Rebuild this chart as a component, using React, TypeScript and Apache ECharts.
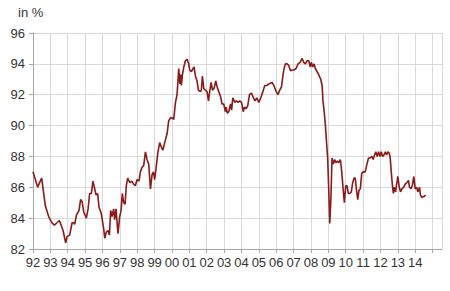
import React, { useEffect, useRef } from "react";
import * as echarts from "echarts";

const years: number[] = [
  1992.0, 1992.27, 1992.38, 1992.5, 1992.71, 1992.9, 1993.09, 1993.23, 1993.38, 1993.52, 1993.73, 1993.88, 1993.96,
  1994.11, 1994.25, 1994.34, 1994.4, 1994.5, 1994.65, 1994.74, 1994.82, 1994.92, 1995.07, 1995.17, 1995.26, 1995.36,
  1995.45, 1995.53, 1995.63, 1995.72, 1995.8, 1995.93, 1996.07, 1996.13, 1996.22, 1996.32, 1996.4, 1996.47, 1996.55,
  1996.64, 1996.7, 1996.78, 1996.84, 1996.89, 1996.99, 1997.07, 1997.14, 1997.22, 1997.3, 1997.37, 1997.45, 1997.57,
  1997.68, 1997.8, 1997.89, 1997.99, 1998.1, 1998.18, 1998.28, 1998.37, 1998.47, 1998.56, 1998.66, 1998.76, 1998.85,
  1998.93, 1999.0, 1999.08, 1999.18, 1999.29, 1999.39, 1999.47, 1999.56, 1999.72, 1999.81, 1999.91, 2000.0, 2000.1,
  2000.2, 2000.29, 2000.39, 2000.45, 2000.5, 2000.54, 2000.6, 2000.68, 2000.77, 2000.87, 2000.96, 2001.02, 2001.12,
  2001.21, 2001.27, 2001.35, 2001.44, 2001.52, 2001.64, 2001.69, 2001.75, 2001.83, 2001.92, 2002.02, 2002.1, 2002.17,
  2002.25, 2002.33, 2002.42, 2002.52, 2002.6, 2002.69, 2002.79, 2002.88, 2002.98, 2003.07, 2003.12, 2003.18, 2003.27,
  2003.37, 2003.43, 2003.5, 2003.62, 2003.71, 2003.81, 2003.9, 2004.0, 2004.1, 2004.17, 2004.27, 2004.36, 2004.46,
  2004.57, 2004.69, 2004.77, 2004.88, 2005.0, 2005.11, 2005.23, 2005.34, 2005.47, 2005.57, 2005.76, 2005.86, 2006.0,
  2006.1, 2006.2, 2006.3, 2006.38, 2006.45, 2006.53, 2006.62, 2006.72, 2006.82, 2006.91, 2007.02, 2007.14, 2007.26,
  2007.37, 2007.49, 2007.58, 2007.68, 2007.77, 2007.87, 2007.96, 2008.02, 2008.1, 2008.18, 2008.25, 2008.35, 2008.44,
  2008.56, 2008.64, 2008.69, 2008.75, 2008.83, 2008.92, 2008.96, 2009.02, 2009.08, 2009.15, 2009.21, 2009.29, 2009.36,
  2009.44, 2009.52, 2009.6, 2009.69, 2009.77, 2009.84, 2009.92, 2010.0, 2010.07, 2010.15, 2010.23, 2010.32, 2010.4,
  2010.48, 2010.55, 2010.61, 2010.69, 2010.76, 2010.84, 2010.92, 2011.0, 2011.12, 2011.22, 2011.31, 2011.41, 2011.5,
  2011.58, 2011.66, 2011.73, 2011.81, 2011.89, 2011.97, 2012.04, 2012.12, 2012.2, 2012.28, 2012.35, 2012.43, 2012.51,
  2012.56, 2012.62, 2012.68, 2012.74, 2012.79, 2012.87, 2012.93, 2013.0, 2013.08, 2013.15, 2013.23, 2013.33, 2013.42,
  2013.52, 2013.61, 2013.67, 2013.75, 2013.83, 2013.92, 2014.0, 2014.08, 2014.15, 2014.25, 2014.3, 2014.38, 2014.5,
  2014.6,
];

const values: number[] = [
  87.0, 86.0, 86.3, 86.6, 84.8, 84.1, 83.7, 83.55, 83.7, 83.85, 83.2, 82.4, 82.8,
  82.9, 83.7, 83.7, 83.6, 84.2, 84.5, 85.2, 85.1, 84.4, 84.0, 84.6, 85.6, 85.6,
  86.4, 86.0, 85.5, 85.6, 84.7, 84.3, 83.3, 82.7, 83.1, 83.2, 82.9, 84.5, 84.1,
  84.6, 83.9, 84.6, 83.7, 83.0, 84.1, 84.5, 85.6, 85.0, 84.9, 86.1, 86.6, 86.3,
  86.4, 86.2, 86.1, 86.5, 86.4, 87.0, 87.3, 87.4, 88.3, 87.8, 87.5, 85.9, 86.8,
  87.0, 86.5, 87.2, 88.2, 88.9, 88.6, 88.4, 88.8, 89.5, 90.3, 90.5, 90.5, 90.4,
  91.5, 92.0, 93.7, 92.7, 93.3, 92.6, 93.3, 93.8, 94.2, 94.3, 94.0, 93.6, 93.5,
  93.7, 93.8, 93.2, 92.9, 92.3, 92.2, 92.3, 93.2, 92.4, 92.3, 92.2, 91.6, 92.2,
  92.8, 92.3, 92.4, 92.9, 92.5, 92.2, 91.9, 91.4, 91.4, 90.9, 91.2, 90.8, 90.9,
  91.4, 91.0, 91.8, 91.5, 91.6, 91.5, 91.6, 91.5, 90.9, 91.2, 91.1, 91.3, 92.0,
  92.1, 91.8, 91.6, 91.8, 91.5, 91.8, 92.2, 92.6, 92.6, 92.7, 92.8, 92.6, 92.2,
  92.0, 92.3, 92.5, 93.2, 93.7, 94.0, 94.0, 93.9, 93.55, 93.6, 93.6, 93.7, 94.0,
  94.1, 94.35, 94.1, 94.0, 94.2, 94.2, 93.8, 94.1, 93.8, 94.0, 93.7, 93.5, 93.3,
  93.0, 92.6, 91.6, 91.0, 90.0, 88.5, 87.9, 85.9, 83.65, 85.4, 87.9, 87.5, 87.8,
  87.6, 87.7, 87.6, 87.8, 87.0, 86.0, 85.0, 86.1, 86.1, 85.6, 85.6, 85.7, 86.3,
  86.6, 86.6, 85.9, 85.2, 85.8, 85.9, 86.9, 87.0, 87.0, 87.5, 87.9, 87.9, 88.0,
  87.8, 88.1, 88.3, 88.0, 88.3, 88.0, 88.3, 88.0, 88.1, 88.3, 88.1, 88.3, 88.2,
  87.9, 87.0, 86.2, 85.6, 86.0, 85.7, 86.2, 86.7, 86.0, 85.7, 85.9, 86.0, 86.2,
  86.3, 86.45, 86.0, 85.9, 86.1, 86.7, 85.9, 86.0, 85.7, 86.0, 85.5, 85.35, 85.4,
  85.5,
];

const yTicks = { min: 82, max: 96, step: 2 };
const xRange = { min: 1992, max: 2015.54, lastLabel: 2014 };
const unitLabel = "in %";

export default function App() {
  const ref = useRef<HTMLDivElement>(null);
  useEffect(() => {
    if (!ref.current) return;
    const chart = echarts.init(ref.current, undefined, { renderer: "svg" });
    const font = "'Liberation Sans', Arial, sans-serif";
    chart.setOption({
      animation: false,
      backgroundColor: "#ffffff",
      grid: { left: 33, right: 8, top: 33, bottom: 42, containLabel: false },
      graphic: [
        {
          type: "text",
          left: 18,
          top: 6,
          style: { text: unitLabel, font: `13px ${font}`, fill: "#333333" },
        },
      ],
      xAxis: {
        type: "value",
        min: xRange.min,
        max: xRange.max,
        interval: 1,
        axisLine: { show: true, lineStyle: { color: "#a6a6a6", width: 1 } },
        axisTick: { show: true, length: 4, lineStyle: { color: "#a6a6a6" } },
        splitLine: { show: true, lineStyle: { color: "#d9d9d9", width: 1 } },
        axisLabel: {
          color: "#333333",
          fontFamily: font,
          fontSize: 13,
          margin: 7,
          showMaxLabel: false,
          formatter: (v: number) => {
            const y = Math.round(v);
            if (y > xRange.lastLabel) return "";
            return String(y % 100).padStart(2, "0");
          },
        },
      },
      yAxis: {
        type: "value",
        min: yTicks.min,
        max: yTicks.max,
        interval: yTicks.step,
        axisLine: { show: true, lineStyle: { color: "#a6a6a6", width: 1 } },
        axisTick: { show: true, length: 4, lineStyle: { color: "#a6a6a6" } },
        splitLine: { show: true, lineStyle: { color: "#d9d9d9", width: 1 } },
        axisLabel: { color: "#333333", fontFamily: font, fontSize: 13, margin: 8 },
      },
      series: [
        {
          type: "line",
          data: years.map((x, i) => [x, values[i]]),
          showSymbol: false,
          symbol: "none",
          lineStyle: { color: "#8b1a1a", width: 1.6 },
        },
      ],
    });
    return () => chart.dispose();
  }, []);
  return <div ref={ref} style={{ width: 450, height: 291, position: "absolute", left: 0, top: 0 }} />;
}
